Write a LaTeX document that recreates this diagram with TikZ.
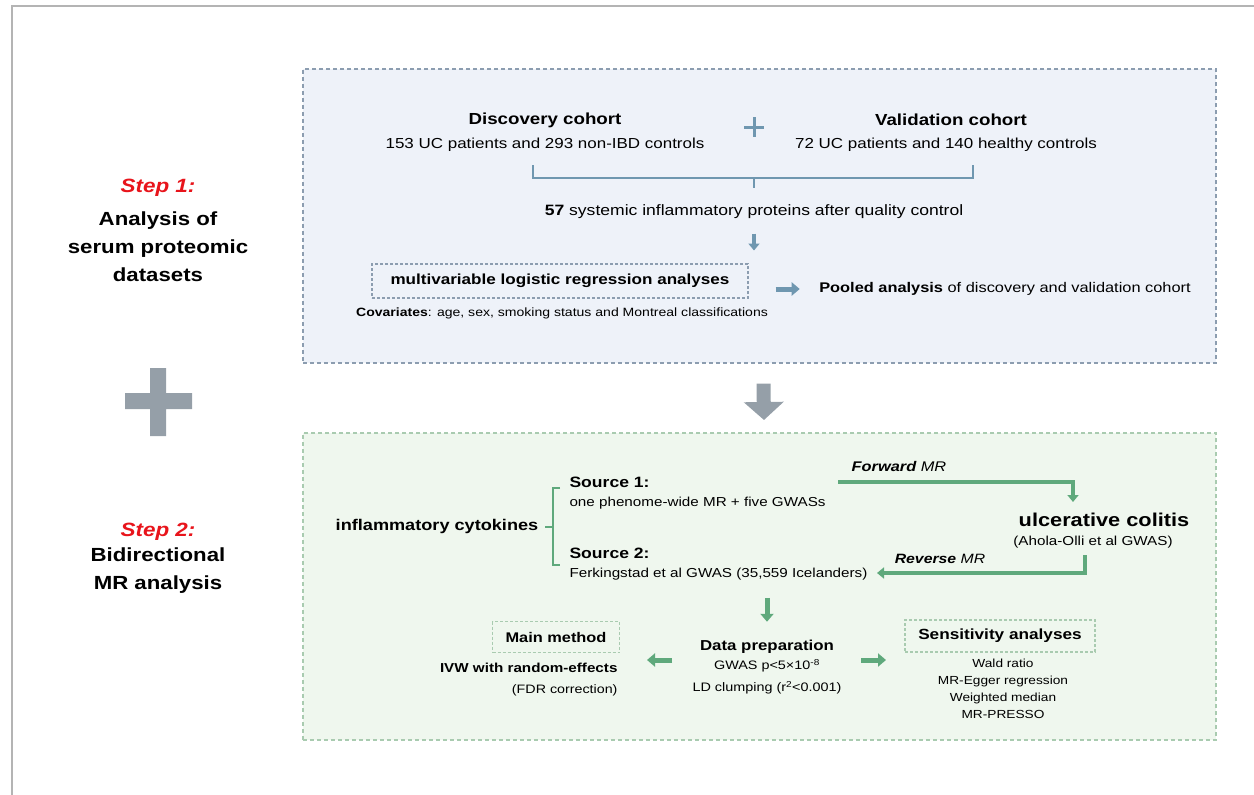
\documentclass[tikz,border=0pt]{standalone}
\usepackage{fontspec}
\setmainfont[FakeStretch=1.17]{Liberation Sans}
\usetikzlibrary{arrows.meta,positioning}

\newcommand{\fs}[1]{\fontsize{#1}{#1}\selectfont}

\begin{document}
\begin{tikzpicture}
		[x=1pt,y=-1pt,
		%Styles
		panel/.style={draw,dash pattern=on 4pt off 3pt,line width=1.3pt,inner sep=0pt},
		dashbox/.style={draw,dash pattern=on 3pt off 2pt,line width=1.1pt,inner sep=0pt},
		head/.style={font=\bfseries\fs{16}},
		txt/.style={font=\fs{14.5}},
		small/.style={font=\fs{13}},
		steplabel/.style={font=\bfseries\itshape\fs{19.2},text=stepred},
		steptext/.style={font=\bfseries\fs{19},align=center,execute at begin node=\setlength{\baselineskip}{28pt}},
		bluelink/.style={draw=linkblue,line width=2.2pt},
		fatblue/.style={draw=linkblue,line width=5pt,-{Triangle[width=13pt,length=8pt]}},
		greenlink/.style={draw=linkgreen,line width=2.2pt},
		greenarrow/.style={draw=linkgreen,line width=3.5pt,-{Triangle[width=11pt,length=7pt]}},
		fatgreen/.style={draw=linkgreen,line width=5pt,-{Triangle[width=13pt,length=8pt]}}
		]
		
		%Colors
		\definecolor{bluefill}{HTML}{EEF2F9}
		\definecolor{bluedash}{HTML}{8C9DB0}
		\definecolor{linkblue}{HTML}{6F97B0}
		\definecolor{greenfill}{HTML}{EFF7EE}
		\definecolor{greendash}{HTML}{A9CBB0}
		\definecolor{linkgreen}{HTML}{5FA97C}
		\definecolor{arrowgray}{HTML}{959FA8}
		\definecolor{framegray}{HTML}{B4B4B4}
		\definecolor{stepred}{HTML}{E8141B}
		
		\useasboundingbox (0,0) rectangle (1254,795);
		\draw[framegray,line width=2pt] (12,795) -- (12,6) -- (1254,6);
		
		%Left column
		\node[steplabel] (step1) at (158,188) {Step 1:};
		\node[steptext] (step1txt) at (158,247) {Analysis of\\serum proteomic\\datasets};
		\fill[arrowgray] (125,393) rectangle (192,409) (150,368) rectangle (166,436);
		\node[steplabel] (step2) at (158,532) {Step 2:};
		\node[steptext] (step2txt) at (158,571) {Bidirectional\\MR analysis};
		
		%Step 1 panel
		\node[panel,draw=bluedash,fill=bluefill,minimum width=913pt,minimum height=294pt] (proteomic) at (759.5,216) {};
		\node[head] (disc) at (545,120) {Discovery cohort};
		\node[txt] (discn) at (545,145) {153 UC patients and 293 non-IBD controls};
		\node[head] (valid) at (951,120) {Validation cohort};
		\node[txt] (validn) at (946,145) {72 UC patients and 140 healthy controls};
		\draw[linkblue,line width=3pt] (744,127) -- (764,127) (754,117) -- (754,137);
		\coordinate (joinA) at (754,178);
		\draw[bluelink] (533,165) -- (533,178) -- (973,178) -- (973,165);
		\draw[bluelink] (joinA) -- ++(0,10);
		\node[font=\fs{15}] (proteins) at (754,212) {\textbf{57} systemic inflammatory proteins after quality control};
		\draw[draw=linkblue,line width=3.5pt,-{Triangle[width=11pt,length=7pt]}] ([yshift=-11pt]proteins.south) -- ([yshift=-28pt]proteins.south);
		\node[dashbox,draw=bluedash,font=\bfseries\fs{14.6},minimum width=376pt,minimum height=34pt] (multi) at (560,281) {multivariable logistic regression analyses};
		\node[font=\fs{12}] (covar) at (562,313) {\textbf{Covariates}: age, sex, smoking status and Montreal classifications};
		\node[font=\fs{14}] (pooled) at (1005,289) {\textbf{Pooled analysis} of discovery and validation cohort};
		\draw[fatblue] ([xshift=-40pt]pooled.west) -- ([xshift=-16pt]pooled.west);
		
		\draw[arrowgray,line width=14pt,-{Triangle[width=39pt,length=18pt]}] ([xshift=4pt,yshift=-20pt]proteomic.south) -- (764,420);
		
		%Step 2 panel
		\node[panel,draw=greendash,fill=greenfill,minimum width=913pt,minimum height=307pt] (mr) at (759.5,586.5) {};
		\node[font=\bfseries\fs{15.5}] (cyto) at (437,526) {inflammatory cytokines};
		\draw[greenlink] (560,488) -- (553,488) -- (553,565) -- (560,565);
		\draw[greenlink] (553,527) -- (545,527);
		\node[font=\bfseries\fs{15},anchor=west] (src1) at (566,482) {Source 1:};
		\node[small,anchor=west] (src1txt) at (566,503) {one phenome-wide MR + five GWASs};
		\node[font=\bfseries\fs{15},anchor=west] (src2) at (566,553) {Source 2:};
		\node[small,anchor=west] (src2txt) at (566,574) {Ferkingstad et al GWAS (35,559 Icelanders)};
		\node[font=\bfseries\fs{18.6}] (uc) at (1104,520) {ulcerative colitis};
		\node[small] (ucref) at (1093,542) {(Ahola-Olli et al GWAS)};
		\coordinate (fwdA) at (838,482);
		\coordinate (fwdB) at (1073,502);
		\draw[greenarrow] (fwdA) -| (fwdB);
		\node[font=\itshape\fs{14}] (fwdlbl) at (899,466) {\textbf{Forward} MR};
		\coordinate (revA) at (1085,555);
		\coordinate (revB) at (877,573);
		\draw[greenarrow] (revA) |- (revB);
		\node[font=\itshape\fs{13.5}] (revlbl) at (940,559) {\textbf{Reverse} MR};
		
		\node[font=\bfseries\fs{14.4}] (prep) at (767,647) {Data preparation};
		\node[font=\fs{12.3}] (prepa) at (767,666) {GWAS p<5×10\textsuperscript{-8}};
		\node[font=\fs{12.3}] (prepb) at (767,688) {LD clumping (r\textsuperscript{2}<0.001)};
		\draw[fatgreen] ([yshift=39pt]prep.north) -- ([yshift=15pt]prep.north);
		
		\node[dashbox,draw=greendash,font=\bfseries\fs{14},minimum width=127pt,minimum height=31pt] (main) at (556,637) {Main method};
		\node[font=\bfseries\fs{13},anchor=east] (ivw) at (621,668) {IVW with random-effects};
		\node[font=\fs{12.2},anchor=east] (fdr) at (621,690) {(FDR correction)};
		\draw[fatgreen] (672,660) -- (647,660);
		
		\node[dashbox,draw=greendash,font=\bfseries\fs{14.7},minimum width=190pt,minimum height=32pt] (sens) at (1000,636) {Sensitivity analyses};
		\draw[fatgreen] (861,660) -- (886,660);
		\node[font=\fs{11.7}] (wald) at (1003,663) {Wald ratio};
		\node[font=\fs{11.7}] (egger) at (1003,681) {MR-Egger regression};
		\node[font=\fs{11.7}] (wmed) at (1003,698) {Weighted median};
		\node[font=\fs{11.7}] (presso) at (1003,714) {MR-PRESSO};
	\end{tikzpicture}
\end{document}
